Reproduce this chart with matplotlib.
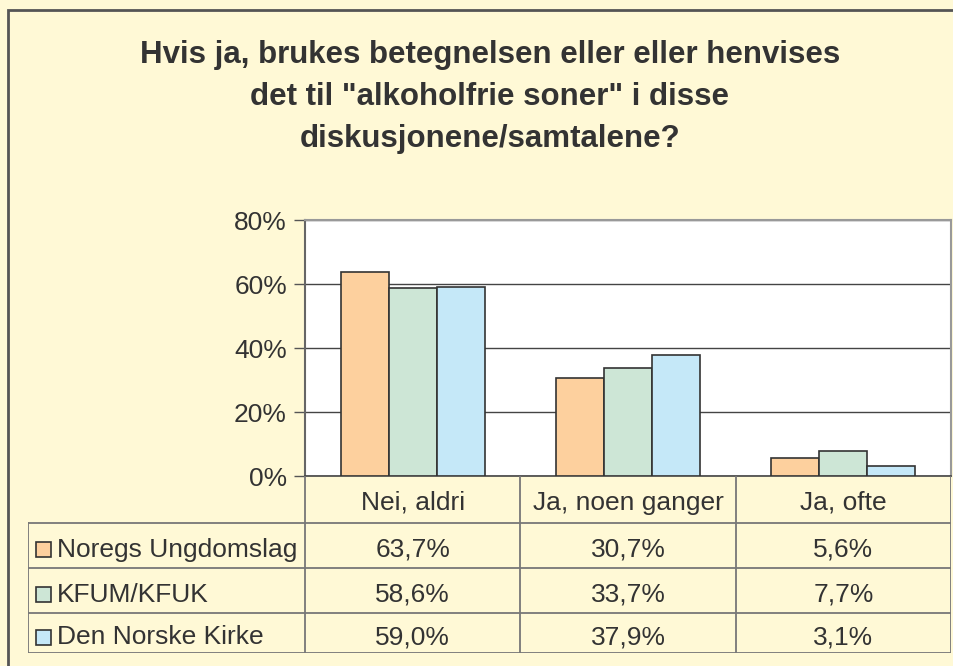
import matplotlib.pyplot as plt
from matplotlib.patches import Rectangle
from matplotlib.ticker import FuncFormatter

plt.rcParams['font.family'] = ['Liberation Sans', 'DejaVu Sans']

title = 'Hvis ja, brukes betegnelsen eller eller henvises\ndet til "alkoholfrie soner" i disse\ndiskusjonene/samtalene?'
categories = ['Nei, aldri', 'Ja, noen ganger', 'Ja, ofte']
series = ['Noregs Ungdomslag', 'KFUM/KFUK', 'Den Norske Kirke']
values = [
    [63.7, 30.7, 5.6],
    [58.6, 33.7, 7.7],
    [59.0, 37.9, 3.1],
]
colors = ['#FDD09E', '#CDE6D6', '#C5E8F8']
yticks = [0, 20, 40, 60, 80]

W, H = 954, 666
BG = '#FFF9D6'
TXT = '#333333'
EDGE = '#333333'


def fx(px):
    return px / W


def fy(py):
    return 1 - py / H


fig = plt.figure(figsize=(W / 100, H / 100), dpi=100, facecolor=BG)

# outer frame (cropped on right/bottom)
fig.patches.append(Rectangle((fx(8), fy(700)), fx(980) - fx(8), fy(10) - fy(700),
                             transform=fig.transFigure, fill=False,
                             edgecolor='#555555', linewidth=2))

fig.text(fx(490), fy(97), title, ha='center', va='center', fontsize=22.5,
         fontweight='bold', color=TXT, linespacing=1.5)

# bar chart
ax = fig.add_axes([fx(305), fy(476), fx(951) - fx(305), fy(220) - fy(476)])
ax.set_facecolor('white')
n = len(series)
bw = 0.223
for i, (name, vals) in enumerate(zip(series, values)):
    xs = [c + (i - (n - 1) / 2) * bw for c in range(len(categories))]
    ax.bar(xs, vals, width=bw, color=colors[i], edgecolor=EDGE, linewidth=1.2, zorder=3)

ax.set_xlim(-0.5, len(categories) - 0.5)
ax.set_ylim(0, 80)
ax.set_yticks(yticks)
ax.yaxis.set_major_formatter(FuncFormatter(lambda v, p: f'{v:.0f}%'))
ax.tick_params(axis='y', labelsize=19, colors=TXT, length=8, width=1, pad=5,
               color='#555555')
ax.tick_params(axis='x', bottom=False, labelbottom=False)
ax.grid(axis='y', color='#444444', linewidth=1, zorder=0)
for side in ['top', 'right']:
    ax.spines[side].set_color('#999999')
    ax.spines[side].set_linewidth(1.5)
ax.spines['left'].set_color('#666666')
ax.spines['left'].set_linewidth(1.5)
ax.spines['bottom'].set_color('#444444')
ax.spines['bottom'].set_linewidth(1.2)

# data table
tx0, tx1, ty0, ty1 = 28, 951, 476, 653
tab = fig.add_axes([fx(tx0), fy(ty1), fx(tx1) - fx(tx0), fy(ty0) - fy(ty1)])
tab.set_facecolor('none')
tab.axis('off')
lab_w = (305 - 28) / 215.3
head_h = 1.08
row_h = [1.04, 1.04, 0.92]
tab.set_xlim(-lab_w, len(categories))
total_h = head_h + sum(row_h)
tab.set_ylim(total_h, 0)

line_kw = dict(color='#777777', linewidth=1.3)
# header cells
for c, cat in enumerate(categories):
    tab.text(c + 0.5, head_h / 2 + 0.08, cat, ha='center', va='center', fontsize=19, color=TXT)
for c in range(len(categories) + 1):
    tab.plot([c, c], [0, total_h], **line_kw)
# row lines
edges = [head_h]
for h in row_h:
    edges.append(edges[-1] + h)
for e in edges:
    tab.plot([-lab_w, len(categories)], [e, e], **line_kw)
tab.plot([-lab_w, -lab_w], [head_h, total_h], **line_kw)

for r, (name, vals) in enumerate(zip(series, values)):
    yc = edges[r] + row_h[r] / 2 + 0.1
    tab.add_patch(Rectangle((-lab_w + 0.035, yc - 0.17), 0.07, 0.34,
                            facecolor=colors[r], edgecolor=EDGE, linewidth=1.2))
    tab.text(-lab_w + 0.135, yc, name, ha='left', va='center', fontsize=19, color=TXT)
    for c, v in enumerate(vals):
        tab.text(c + 0.5, yc, f'{v:.1f}%'.replace('.', ','), ha='center', va='center',
                 fontsize=19, color=TXT)

fig.savefig('out.png', dpi=100, facecolor=BG)
